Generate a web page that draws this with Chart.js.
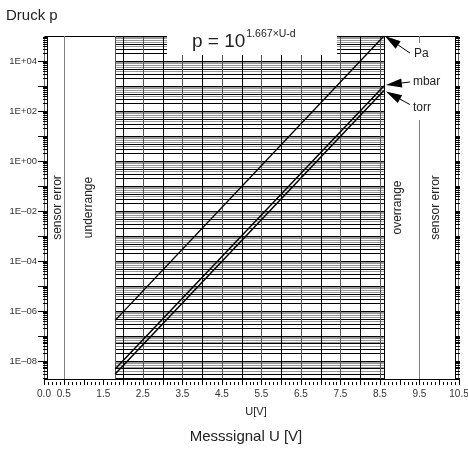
<!DOCTYPE html>
<html lang="de">
<head>
<meta charset="UTF-8">
<title>Druck p / Messsignal U</title>
<style>
  body { margin: 0; background: #fff; }
  #wrap { width: 468px; height: 450px; }
</style>
</head>
<body>
<div id="wrap"><canvas id="chart" width="468" height="450"></canvas></div>
<script src="https://cdn.jsdelivr.net/npm/chart.js"></script>
<script>
// Kennlinien: Messsignal U [V] -> Druck p
const lineU = [1.8, 8.6];
const paValues = [4.2e-7, 1.0e5];
const mbarValues = [4.8e-9, 1.0e3];
const torrValues = [3.0e-9, 6.6e2];
const seriesNames = ['Pa', 'mbar', 'torr'];

// Achsen
const uMin = 0, uMax = 10.5;
const pMin = 1.9e-9, pMax = 1e5;
const xTicks = [0.0, 0.5, 1.5, 2.5, 3.5, 4.5, 5.5, 6.5, 7.5, 8.5, 9.5, 10.5];
const yTicks = [1e4, 1e2, 1e0, 1e-2, 1e-4, 1e-6, 1e-8];
const yTickLabels = ['1E+04', '1E+02', '1E+00', '1E–02', '1E–04', '1E–06', '1E–08'];
const gridU = [2.0, 2.5, 3.0, 3.5, 4.0, 4.5, 5.0, 5.5, 6.0, 6.5, 7.0, 7.5, 8.0, 8.5];

// Bereiche
const zoneEdges = [0.5, 1.8, 8.6, 9.5];
const zoneNames = ['sensor error', 'underrange', 'overrange', 'sensor error'];

const FONT = '"Liberation Sans", Arial, sans-serif';
const zoneLabelU = [0.34, 1.13, 8.96, 9.92];   // Mitte der Beschriftung
// Pfeile: Spitze / Ende relativ zum Linienende (px)
const arrowOffsets = [
  { tip: [1, 0], tail: [26, 17], label: [30, 18] },
  { tip: [2, -1], tail: [26, -4], label: [29, -4] },
  { tip: [2, 1], tail: [26, 14], label: [29, 17] }
];
// Rasterfarbe je Teilung 1..9 innerhalb einer Dekade
const minorColors = ['#000', '#000', '#000', '#999', '#000', '#999', '#999', '#999', '#999'];

function toPoints(vals) {
  return vals.map((v, i) => ({ x: lineU[i], y: v }));
}

function crisp(v) {
  return Math.round(v) + 0.5;
}

function arrow(ctx, x0, y0, x1, y1) {
  // x0,y0 = Ende, x1,y1 = Spitze
  const ang = Math.atan2(y1 - y0, x1 - x0);
  const len = 16, half = 4.5;
  const bx = x1 - len * Math.cos(ang), by = y1 - len * Math.sin(ang);
  ctx.beginPath();
  ctx.moveTo(x0, y0);
  ctx.lineTo(bx, by);
  ctx.lineWidth = 1;
  ctx.stroke();
  ctx.beginPath();
  ctx.moveTo(x1, y1);
  ctx.lineTo(bx + half * Math.sin(ang), by - half * Math.cos(ang));
  ctx.lineTo(bx - half * Math.sin(ang), by + half * Math.cos(ang));
  ctx.closePath();
  ctx.fill();
}

const sheet = {
  id: 'sheet',
  beforeDatasetsDraw(chart) {
    const { ctx, chartArea: a, scales: { x, y } } = chart;
    ctx.save();
    ctx.lineWidth = 1;

    // Raster im Messbereich
    const gx0 = x.getPixelForValue(zoneEdges[1]);
    const gx1 = x.getPixelForValue(zoneEdges[2]);
    for (let m = 9; m >= 1; m--) {
      ctx.strokeStyle = minorColors[m - 1];
      ctx.beginPath();
      for (let e = -9; e <= 4; e++) {
        const v = m * Math.pow(10, e);
        if (v < pMin) continue;
        const py = crisp(y.getPixelForValue(v));
        ctx.moveTo(gx0, py); ctx.lineTo(gx1, py);
      }
      ctx.stroke();
    }
    gridU.forEach(u => {
      const px = crisp(x.getPixelForValue(u));
      ctx.strokeStyle = Number.isInteger(u) ? '#000' : '#555';
      ctx.beginPath();
      ctx.moveTo(px, a.top); ctx.lineTo(px, a.bottom);
      ctx.stroke();
    });

    // Rahmen oben / unten
    ctx.strokeStyle = '#000';
    ctx.beginPath();
    ctx.moveTo(a.left, crisp(a.top)); ctx.lineTo(a.right, crisp(a.top));
    ctx.moveTo(a.left, crisp(a.bottom)); ctx.lineTo(a.right, crisp(a.bottom));
    ctx.stroke();

    // Bereichsgrenzen
    const edgeColors = ['#808080', '#555', '#000', '#808080'];
    zoneEdges.forEach((u, i) => {
      const px = crisp(x.getPixelForValue(u));
      ctx.strokeStyle = edgeColors[i];
      ctx.beginPath();
      ctx.moveTo(px, a.top); ctx.lineTo(px, a.bottom);
      ctx.stroke();
    });

    // y-Achsen links und rechts mit Teilstrichen
    ctx.strokeStyle = '#666';
    ctx.beginPath();
    ctx.moveTo(a.left + 0.5, a.top); ctx.lineTo(a.left + 0.5, a.bottom);
    ctx.moveTo(a.right - 0.5, a.top); ctx.lineTo(a.right - 0.5, a.bottom);
    ctx.stroke();
    ctx.strokeStyle = '#000';
    ctx.beginPath();
    ctx.moveTo(a.left + 3.5, a.top); ctx.lineTo(a.left + 3.5, a.bottom);
    ctx.moveTo(a.right - 3.5, a.top); ctx.lineTo(a.right - 3.5, a.bottom);
    for (let e = -9; e <= 4; e++) {
      for (let m = 1; m <= 9; m++) {
        const v = m * Math.pow(10, e);
        if (v < pMin) continue;
        const py = crisp(y.getPixelForValue(v));
        ctx.moveTo(m === 1 ? a.left - 6 : a.left - 1, py); ctx.lineTo(a.left + 3.5, py);
        ctx.moveTo(a.right - 3.5, py); ctx.lineTo(a.right + 1, py);
      }
    }
    ctx.stroke();

    // x-Achse Teilstriche
    ctx.beginPath();
    for (let k = 0; k <= 105; k++) {
      const px = crisp(x.getPixelForValue(k / 10));
      if (k % 5 === 0) { ctx.moveTo(px, a.bottom); ctx.lineTo(px, a.bottom + 6); }
      else { ctx.moveTo(px, a.bottom + 3); ctx.lineTo(px, a.bottom + 6); }
    }
    ctx.stroke();

    // Formelfeld
    ctx.fillStyle = '#fff';
    ctx.fillRect(167, 20, 170, 35);
    ctx.fillStyle = '#222';
    ctx.textBaseline = 'alphabetic';
    ctx.textAlign = 'left';
    ctx.font = '19px ' + FONT;
    ctx.fillText('p = 10', 192, 47);
    const w = ctx.measureText('p = 10').width;
    ctx.font = '10.5px ' + FONT;
    ctx.fillText('1.667×U-d', 192 + w + 1, 37);

    // Tick-Beschriftungen
    ctx.fillStyle = '#333';
    ctx.font = '9.5px ' + FONT;
    ctx.textAlign = 'right';
    ctx.textBaseline = 'middle';
    yTicks.forEach((v, i) => {
      ctx.fillText(yTickLabels[i], a.left - 7, y.getPixelForValue(v));
    });
    ctx.textAlign = 'center';
    ctx.textBaseline = 'top';
    ctx.font = '10px ' + FONT;
    xTicks.forEach(u => {
      ctx.fillText(u.toFixed(1), x.getPixelForValue(u), a.bottom + 10);
    });

    // Bereichsnamen senkrecht
    ctx.fillStyle = '#222';
    ctx.font = '12px ' + FONT;
    ctx.textBaseline = 'middle';
    zoneNames.forEach((t, i) => {
      ctx.save();
      ctx.translate(x.getPixelForValue(zoneLabelU[i]), (a.top + a.bottom) / 2);
      ctx.rotate(-Math.PI / 2);
      ctx.fillText(t, 0, 0);
      ctx.restore();
    });
    ctx.restore();
  },
  afterDatasetsDraw(chart) {
    const { ctx, scales: { x, y } } = chart;
    ctx.save();
    // Feld fuer Pfeilbeschriftung
    ctx.fillStyle = '#fff';
    ctx.fillRect(405, 43, 42, 77);
    ctx.strokeStyle = '#000';
    const ends = [paValues, mbarValues, torrValues];
    ctx.font = '12px ' + FONT;
    ctx.textAlign = 'left';
    ctx.textBaseline = 'middle';
    ends.forEach((vals, i) => {
      const ex = x.getPixelForValue(lineU[1]);
      const ey = y.getPixelForValue(vals[1]);
      const o = arrowOffsets[i];
      ctx.fillStyle = '#000';
      arrow(ctx, ex + o.tail[0], ey + o.tail[1], ex + o.tip[0], ey + o.tip[1]);
      ctx.fillStyle = '#222';
      ctx.fillText(seriesNames[i], ex + o.label[0], ey + o.label[1]);
    });
    ctx.restore();
  },
  afterDraw(chart) {
    const { ctx } = chart;
    ctx.save();
    ctx.fillStyle = '#222';
    ctx.textBaseline = 'alphabetic';
    ctx.textAlign = 'left';
    ctx.font = '15px ' + FONT;
    ctx.fillText('Druck p', 6, 20);
    ctx.textAlign = 'center';
    ctx.font = '11px ' + FONT;
    ctx.fillText('U[V]', 256, 415);
    ctx.font = '15px ' + FONT;
    ctx.fillText('Messsignal U [V]', 246, 441);
    ctx.restore();
  }
};

const chart = new Chart(document.getElementById('chart'), {
  type: 'line',
  data: {
    datasets: [
      { label: seriesNames[0], data: toPoints(paValues), borderColor: '#000', borderWidth: 1.4 },
      { label: seriesNames[1], data: toPoints(mbarValues), borderColor: '#000', borderWidth: 1.5 },
      { label: seriesNames[2], data: toPoints(torrValues), borderColor: '#000', borderWidth: 1.5 }
    ]
  },
  options: {
    responsive: false,
    animation: false,
    devicePixelRatio: 1,
    layout: { padding: { left: 44, right: 9, top: 36, bottom: 71 } },
    elements: { point: { radius: 0 }, line: { tension: 0 } },
    scales: {
      x: { type: 'linear', min: uMin, max: uMax, display: false },
      y: { type: 'logarithmic', min: pMin, max: pMax, display: false }
    },
    plugins: { legend: { display: false }, tooltip: { enabled: false } }
  },
  plugins: [sheet]
});
</script>
</body>
</html>
